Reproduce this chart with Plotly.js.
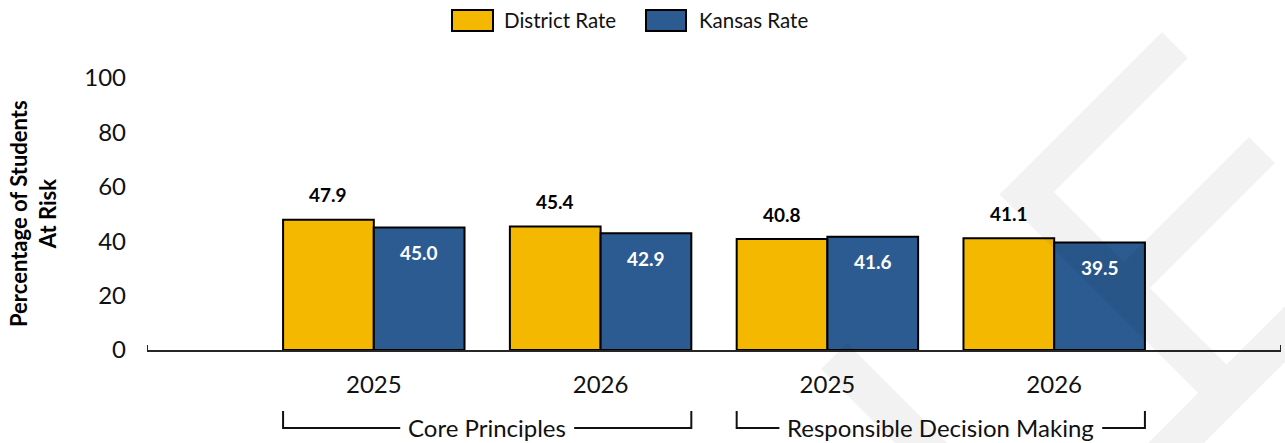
<!DOCTYPE html>
<html>
<head>
<meta charset="utf-8">
<script src="https://cdn.plot.ly/plotly-3.0.1.min.js"></script>
<style>html,body{margin:0;padding:0;background:#fff;}#chart{width:1285px;height:443px;}</style>
</head>
<body>
<div id="chart"></div>
<script>
// ---- data ----
const years = ['2025', '2026', '2025', '2026'];
const xPos = [1, 2, 3, 4];
const groupNames = ['Core Principles', 'Responsible Decision Making'];
const groupMembers = [[1, 2], [3, 4]];
const seriesNames = ['District Rate', 'Kansas Rate'];
const districtRate = [47.9, 45.4, 40.8, 41.1];
const kansasRate = [45.0, 42.9, 41.6, 39.5];
const yTicks = [0, 20, 40, 60, 80, 100];

// ---- style ----
const FONT = 'Lato, "Open Sans", sans-serif';
const YELLOW = '#F5B800';
const BLUE = '#2C5B91';
const W = 1285, H = 443;
const L = 147, R = 1281, T = 78, B = 350;
const px = v => (v - L) / (R - L);
const py = v => (B - v) / (B - T);
const BAR_HALF = 0.2; // from bargap 0.2, two bars per group
const GROUP_SIZE = 24;

function textWidth(t, size, weight) {
  const c = document.createElement('canvas').getContext('2d');
  c.font = (weight || 'normal') + ' ' + size + 'px Lato';
  return c.measureText(t).width;
}

const traces = [
  {type: 'bar', name: seriesNames[0], x: xPos, y: districtRate,
   marker: {color: YELLOW, line: {color: '#000', width: 2}}, hoverinfo: 'y'},
  {type: 'bar', name: seriesNames[1], x: xPos, y: kansasRate,
   marker: {color: BLUE, line: {color: '#000', width: 2}}, hoverinfo: 'y'}
];

const annotations = [];
const shapes = [];

// value labels
xPos.forEach((x, i) => {
  annotations.push({x: x - BAR_HALF, y: districtRate[i], xref: 'x', yref: 'y',
    text: districtRate[i].toFixed(1), showarrow: false, yshift: 25,
    font: {family: FONT, size: 19, color: '#000', weight: 'bold'}});
  annotations.push({x: x + BAR_HALF, y: kansasRate[i], xref: 'x', yref: 'y',
    text: kansasRate[i].toFixed(1), showarrow: false, yshift: -25,
    font: {family: FONT, size: 19, color: '#fff', weight: 'bold'}});
});

// group brackets and labels
const unit = (R - L) / 5;
groupNames.forEach((g, k) => {
  const a = groupMembers[k][0] - 2 * BAR_HALF;
  const b = groupMembers[k][1] + 2 * BAR_HALF;
  const mid = (a + b) / 2;
  annotations.push({x: mid, y: py(428), xref: 'x', yref: 'paper', text: g, showarrow: false,
    font: {family: FONT, size: GROUP_SIZE, color: '#111'}, yanchor: 'middle'});
  const half = (textWidth(g, GROUP_SIZE) / 2 + 8) / unit;
  shapes.push({type: 'path', xref: 'x', yref: 'paper',
    path: `M ${a} ${py(411)} L ${a} ${py(428)} L ${mid - half} ${py(428)}`,
    line: {color: '#111', width: 2}});
  shapes.push({type: 'path', xref: 'x', yref: 'paper',
    path: `M ${mid + half} ${py(428)} L ${b} ${py(428)} L ${b} ${py(411)}`,
    line: {color: '#111', width: 2}});
});

// axis end ticks
[0, 5].forEach(x => shapes.push({type: 'line', xref: 'x', yref: 'paper', x0: x, x1: x,
  y0: py(351), y1: py(345), line: {color: '#262626', width: 2}}));

// legend (drawn)
const legendItems = [
  {box: [452, 493], text: 502, color: YELLOW, name: seriesNames[0]},
  {box: [646, 686], text: 697, color: BLUE, name: seriesNames[1]}
];
legendItems.forEach(it => {
  shapes.push({type: 'rect', xref: 'paper', yref: 'paper', x0: px(it.box[0]), x1: px(it.box[1]),
    y0: py(31), y1: py(10), fillcolor: it.color, line: {color: '#000', width: 2}});
  annotations.push({x: px(it.text), y: py(20.5), xref: 'paper', yref: 'paper', text: it.name,
    showarrow: false, xanchor: 'left', yanchor: 'middle', font: {family: FONT, size: 20.5, color: '#111'}});
});

// y axis title
annotations.push({x: px(33), y: py(214), xref: 'paper', yref: 'paper', textangle: -90,
  text: 'Percentage of Students<br>At Risk', showarrow: false, xanchor: 'center', yanchor: 'middle',
  font: {family: FONT, size: 22, color: '#000', weight: 'bold'}});

// faint watermark
const wm = [
  [[1162,32],[1188,58],[1054,192],[1124,262],[1249,137],[1275,163],[1150,288],[1226.5,364.5],
   [1285,306],[1285,362],[1204,443],[1148,443],[1198,393],[999.5,194.5]],
  [[847,343],[947,443],[895,443],[821,369]]
];
wm.forEach(poly => {
  const p = poly.map((q, i) => (i ? 'L ' : 'M ') + px(q[0]) + ' ' + py(q[1])).join(' ') + ' Z';
  shapes.push({type: 'path', xref: 'paper', yref: 'paper', path: p, layer: 'above',
    fillcolor: 'rgba(0,0,0,0.05)', line: {width: 0}});
});

const layout = {
  width: W, height: H,
  margin: {l: L, r: W - R, t: T, b: H - B, pad: 0},
  paper_bgcolor: '#fff', plot_bgcolor: 'rgba(0,0,0,0)',
  showlegend: false,
  barmode: 'group', bargap: 0.2, bargroupgap: 0,
  font: {family: FONT, color: '#111'},
  xaxis: {range: [0, 5], tickmode: 'array', tickvals: xPos, ticktext: years,
    showgrid: false, zeroline: false, showline: true, linecolor: '#262626', linewidth: 2,
    ticks: '', ticklabelstandoff: 12, tickfont: {family: FONT, size: 24, color: '#111'}, fixedrange: true},
  yaxis: {range: [0, 100], tickmode: 'array', tickvals: yTicks, ticktext: yTicks.map(String),
    showgrid: false, zeroline: false, showline: false, ticks: '', ticklabelstandoff: 20,
    tickfont: {family: FONT, size: 24, color: '#111'}, fixedrange: true},
  annotations: annotations,
  shapes: shapes
};

Plotly.newPlot('chart', traces, layout, {displayModeBar: false, staticPlot: true});
</script>
</body>
</html>
